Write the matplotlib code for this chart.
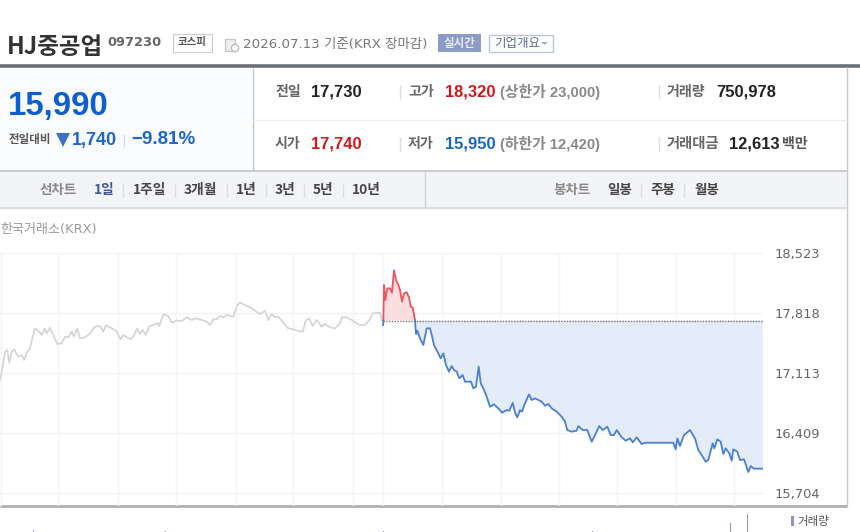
import numpy as np
import matplotlib
matplotlib.use('Agg')
import matplotlib.pyplot as plt
from matplotlib.patches import Rectangle, Polygon, Circle

KR = ['Noto Sans CJK KR', 'DejaVu Sans']
DV = ['DejaVu Sans', 'Noto Sans CJK KR']
LB = ['Liberation Sans', 'Noto Sans CJK KR']

# quote header
prev_close = 17730
price_ticks = [18523, 17818, 17113, 16409, 15704]
tick_labels = ['18,523', '17,818', '17,113', '16,409', '15,704']
grid_x = [1, 58, 118, 176, 236, 293, 353, 383, 442, 501, 559, 617, 676, 734]

# previous session, drawn in grey
past_x = [0, 2.7, 5, 7.3, 9.3, 11.7, 14, 18.3, 21.7, 24, 26.7, 30, 32.7, 35, 39.3, 41.7, 45, 46.7, 50, 53.3,
          57.3, 61.7, 65, 68.3, 71.7, 74, 77.3, 80, 85, 90, 95, 100, 103.3, 106, 111.7, 116, 120.7, 123.3,
          130, 133.3, 137.3, 140, 142.7, 145.7, 149, 155, 157.3, 159.3, 163.3, 168.3, 171.7, 176.7, 181.7,
          186.7, 191.7, 196, 201.7, 206.7, 210, 213.3, 216.7, 220, 223.3, 226.7, 233.3, 236.7, 240, 245,
          250, 255, 260, 265, 268.3, 271.7, 275, 278.3, 283.3, 288.3, 293.3, 298.3, 302.7, 306, 309.3,
          312.7, 316.7, 321.7, 325, 330, 335, 340, 341.7, 346.7, 351.7, 356.7, 360, 365, 370, 372.7, 380, 381.7]
past_p = [17031, 17187, 17364, 17383, 17234, 17364, 17391, 17305, 17325, 17266, 17352, 17403, 17540, 17638,
          17599, 17560, 17638, 17579, 17646, 17560, 17454, 17462, 17540, 17532, 17599, 17540, 17638, 17521,
          17532, 17579, 17657, 17665, 17599, 17673, 17638, 17611, 17509, 17560, 17509, 17540, 17638, 17571,
          17618, 17560, 17657, 17689, 17697, 17665, 17802, 17783, 17704, 17728, 17724, 17767, 17736, 17755,
          17736, 17716, 17677, 17744, 17744, 17783, 17767, 17795, 17775, 17900, 17943, 17912, 17885, 17845,
          17806, 17845, 17736, 17806, 17767, 17775, 17704, 17638, 17626, 17607, 17599, 17736, 17752, 17665,
          17736, 17657, 17689, 17650, 17638, 17697, 17767, 17767, 17736, 17697, 17677, 17677, 17744, 17814,
          17822, 17736]

# today's session
today_x = [383, 383.1, 383.3, 384, 385.3, 387.3, 390, 392, 394, 396, 398.3, 400, 402, 404, 406.7, 409, 410.7,
           412.7, 415, 416, 417.3, 420, 423.3, 426.7, 430, 431.7, 434, 438.3, 440.7, 443.3, 446, 449, 451.7,
           454, 456.7, 459.3, 462.7, 465, 471, 473.3, 476, 478.7, 480.7, 483.3, 486.7, 490, 494, 500, 502,
           506.7, 509.3, 512.7, 515.3, 517.3, 520, 522, 525, 529, 531.7, 535, 538.3, 541.7, 545, 548.3,
           551.7, 556.7, 561.7, 565, 567.3, 571.7, 576.7, 578.3, 582.7, 587.3, 591.7, 595, 599.3, 602.7,
           607.3, 610.7, 614, 616.7, 621.7, 625.7, 630, 632.7, 636.7, 641.7, 645, 673.3, 675.7, 677.3, 680,
           684, 690, 695, 698.3, 701.7, 705.7, 708.3, 712.7, 714.3, 717.3, 720.7, 723.3, 725.7, 729.3, 731.7,
           733.3, 737.3, 740, 744, 748.3, 750.7, 754, 763.3]
today_p = [17740, 17677, 17730, 18147, 17971, 18108, 18108, 18057, 18320, 18206, 18147, 18088, 17951, 18049,
           18061, 18002, 17892, 17884, 17730, 17571, 17610, 17520, 17442, 17638, 17638, 17560, 17442, 17344,
           17285, 17344, 17207, 17129, 17195, 17148, 17129, 17050, 17089, 17011, 17011, 16933, 16952, 17187,
           16992, 16933, 16835, 16717, 16745, 16678, 16647, 16678, 16670, 16764, 16639, 16592, 16678, 16659,
           16757, 16862, 16796, 16815, 16796, 16776, 16729, 16749, 16698, 16659, 16600, 16541, 16443, 16424,
           16436, 16490, 16443, 16443, 16306, 16384, 16490, 16443, 16482, 16384, 16384, 16443, 16357, 16318,
           16345, 16298, 16357, 16279, 16294, 16294, 16216, 16345, 16255, 16384, 16443, 16345, 16208, 16149,
           16071, 16091, 16287, 16228, 16334, 16306, 16161, 16228, 16169, 16083, 16216, 16189, 16091, 16099,
           15950, 16020, 15990, 15990]

# volume spikes
vol_x = [33, 165, 235, 383, 592, 730, 747]
vol_v = [25, 6, 5, 15, 12, 90, 180]

fig = plt.figure(figsize=(8.6, 5.32), dpi=100)

# page furniture is laid out on a pixel grid
bg = fig.add_axes([0, 0, 1, 1], zorder=0)
bg.set_xlim(0, 860)
bg.set_ylim(532, 0)
bg.axis('off')


def label(x, y, s, px, color, weight='normal', family=KR, ha='left'):
    bg.text(x, y, s, fontsize=px * 0.72, color=color, fontweight=weight, family=family, ha=ha, va='center')


def hline(y, x0, x1, color, lw=1.0):
    bg.plot([x0, x1], [y, y], color=color, lw=lw, solid_capstyle='butt')


def vline(x, y0, y1, color, lw=1.0):
    bg.plot([x, x], [y0, y1], color=color, lw=lw, solid_capstyle='butt')


# title row
label(7, 47, 'HJ중공업', 23.5, '#333333', 'bold')
label(107.5, 42, '097230', 13, '#666666', 'bold', DV)
bg.add_patch(Rectangle((172.5, 33.5), 39, 18, fc='white', ec='#cccccc', lw=0.8))
label(192, 42, '코스피', 10.5, '#555555', 'bold', ha='center')
bg.add_patch(Rectangle((225, 39), 10, 12, fc='#eeeeee', ec='#c4c4c4', lw=0.9))
bg.add_patch(Circle((235, 48), 3.6, fc='white', ec='#b8b8b8', lw=0.9))
label(243, 44.5, '2026.07.13 기준(KRX 장마감)', 13.4, '#777777', family=DV)
bg.add_patch(Rectangle((438, 34), 43, 18, fc='#8c9cc5', ec='none'))
label(459.5, 43, '실시간', 11.5, '#e8ecf6', 'bold', ha='center')
bg.add_patch(Rectangle((488.5, 34.5), 64, 17, fc='white', ec='#b9c5de', lw=1))
label(494, 43, '기업개요', 12.5, '#5d6b8a')
bg.add_patch(Polygon([[541, 42], [548, 42], [544.5, 45]], fc='#a5aec2', ec='none'))
hline(66, 0, 860, '#6c7177', 2.6)

# quote panels
bg.add_patch(Rectangle((0, 68), 252, 103, fc='#fafbfc', ec='none'))
vline(252.5, 68, 171, '#c4c6cb')
vline(847, 67, 208, '#c8cace')
hline(119.5, 253, 847, '#eeeeee')
hline(171, 0, 847, '#c8cad0', 1.4)

label(8, 107, '15,990', 33, '#0d5fd0', 'bold', LB)
label(9, 140, '전일대비', 11.5, '#555555', 'bold')
bg.add_patch(Polygon([[56, 133], [70, 133], [63, 147]], fc='#3f72c4', ec='none'))
label(72, 140, '1,740', 18, '#1f66c8', 'bold', LB)
vline(124, 134, 147, '#d8d8d8')
label(131, 140, '−9.81%', 18.8, '#1f66c8', 'bold', LB)

gray_lab = '#666666'
label(275, 92, '전일', 14, gray_lab, 'bold')
label(311, 92, '17,730', 16.5, '#222222', 'bold', LB)
vline(400, 85, 99, '#dddddd')
label(408, 92, '고가', 14, gray_lab, 'bold')
label(445, 92, '18,320', 16.5, '#d3171f', 'bold', LB)
label(500, 92, '(상한가 23,000)', 14.8, '#888888', 'bold', LB)
vline(659, 85, 99, '#dddddd')
label(667, 92, '거래량', 14, gray_lab, 'bold')
label(716, 92, '750,978', 16.5, '#222222', 'bold', LB)

label(275, 144, '시가', 14, gray_lab, 'bold')
label(311, 144, '17,740', 16.5, '#d3171f', 'bold', LB)
vline(400, 137, 151, '#dddddd')
label(408, 144, '저가', 14, gray_lab, 'bold')
label(445, 144, '15,950', 16.5, '#1667c5', 'bold', LB)
label(500, 144, '(하한가 12,420)', 14.8, '#888888', 'bold', LB)
vline(659, 137, 151, '#dddddd')
label(667, 144, '거래대금', 14.3, gray_lab, 'bold')
label(729, 144, '12,613', 16.5, '#222222', 'bold', LB)
label(782, 144, '백만', 14, '#555555', 'bold')

# chart period tabs
bg.add_patch(Rectangle((0, 172), 847, 36, fc='#f3f4f7', ec='none'))
hline(208, 0, 847, '#d4d6dc', 1.2)
vline(424.5, 172, 208, '#cfd1d6')
label(40, 190, '선차트', 13.5, '#888888', 'bold')
tab_names = ['1일', '1주일', '3개월', '1년', '3년', '5년', '10년']
tab_pos = [94, 133, 184, 236, 275, 313, 352]
for name, x in zip(tab_names, tab_pos):
    label(x, 190, name, 13.7, '#3f55a0' if name == '1일' else '#444444', 'bold')
for x in [123, 175, 227, 266, 304, 343, 641, 684]:
    vline(x, 184, 197, '#dcdcdc')
label(553, 190, '봉차트', 13.5, '#888888', 'bold')
for name, x in zip(['일봉', '주봉', '월봉'], [607, 650, 694]):
    label(x, 190, name, 13.5, '#444444', 'bold')

label(0, 230, '한국거래소(KRX)', 13, '#999999', family=DV)

# right edge and bottom rule of the price pane
vline(847, 208, 506, '#c8cace')
hline(506, 0, 847, '#b0b0b0', 2)

# price pane: 253..506 px tall, 0..763 px wide
ax = fig.add_axes([0, (532 - 506) / 532, 763 / 860, 253 / 532], zorder=1)
ax.patch.set_alpha(0)
ax.set_xlim(0, 763)
ax.set_ylim(15551, 18523)
for s in ax.spines.values():
    s.set_visible(False)
ax.set_xticks(grid_x)
ax.set_xticklabels([])
ax.set_yticks(price_ticks)
ax.set_yticklabels(tick_labels, fontsize=9.4, color='#666666', family=DV)
ax.yaxis.tick_right()
ax.tick_params(length=0, pad=8.5)
ax.grid(True, color='#f3f3f3', lw=1)
ax.set_axisbelow(True)

tx = np.array(today_x)
tp = np.array(today_p)
ax.plot(past_x, past_p, color='#d6d6d6', lw=1.3, clip_on=False)
ax.fill_between(tx, tp, prev_close, where=tp >= prev_close, color='#fbdcdd', lw=0, interpolate=True, alpha=0.9)
ax.fill_between(tx, tp, prev_close, where=tp <= prev_close, color='#e2eaf9', lw=0, interpolate=True, alpha=0.9)
ax.plot(tx, np.ma.masked_where(tp < prev_close, tp), color='#ee5560', lw=1.3)
ax.plot(tx, np.ma.masked_where(tp > prev_close, tp), color='#4a80d2', lw=1.3)
ax.plot([383, 763], [prev_close, prev_close], color='#777777', lw=1, ls=(0, (1, 1)))

# volume pane runs off the bottom edge
vol = fig.add_axes([0, 0, 763 / 860, 26 / 532], zorder=1)
vol.patch.set_alpha(0)
vol.set_xlim(0, 763)
vol.set_ylim(0, 260)
vol.axis('off')
vol.bar(vol_x, vol_v, width=1.0, color='#9d8fc8')
bg.add_patch(Rectangle((791, 516), 3, 10, fc='#9d8fc8', ec='none'))
label(797, 521, '거래량', 11.5, '#555555')

fig.savefig('out.png', dpi=100)
